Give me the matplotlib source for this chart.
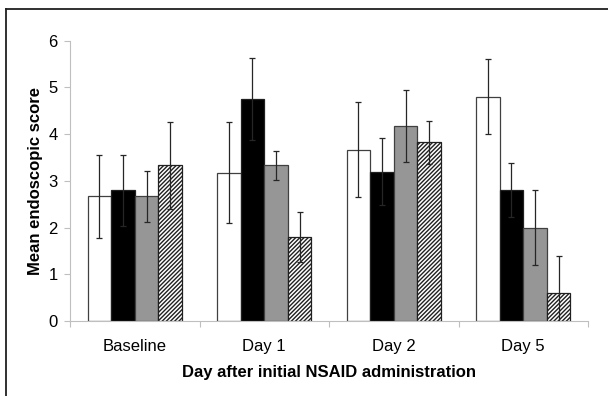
import matplotlib
matplotlib.use("Agg")
import matplotlib.pyplot as plt
from matplotlib.lines import Line2D
import numpy as np

plt.rcParams['font.family'] = ['Liberation Sans', 'DejaVu Sans']
plt.rcParams['hatch.linewidth'] = 1.0

categories = ["Baseline", "Day 1", "Day 2", "Day 5"]
series_white = [2.67, 3.17, 3.67, 4.80]
series_black = [2.80, 4.75, 3.20, 2.80]
series_gray = [2.67, 3.33, 4.17, 2.00]
series_hatch = [3.33, 1.80, 3.83, 0.60]
err_white = [0.89, 1.08, 1.02, 0.80]
err_black = [0.76, 0.88, 0.71, 0.58]
err_gray = [0.55, 0.31, 0.77, 0.80]
err_hatch = [0.94, 0.54, 0.46, 0.80]
yticks = [0, 1, 2, 3, 4, 5, 6]

fig = plt.figure(figsize=(6.08, 3.96), dpi=100)
ax = fig.add_axes([70/608, 1-321/396, 518/608, (321-40.7)/396])

x = np.arange(len(categories)) + 0.5
w = 0.182
styles = [
    dict(facecolor="white", edgecolor="#404040", hatch=None),
    dict(facecolor="black", edgecolor="#202020", hatch=None),
    dict(facecolor="#969696", edgecolor="#404040", hatch=None),
    dict(facecolor="white", edgecolor="#202020", hatch="////////"),
]
vals = [series_white, series_black, series_gray, series_hatch]
errs = [err_white, err_black, err_gray, err_hatch]
for k, (v, e, st) in enumerate(zip(vals, errs, styles)):
    pos = x + (k - 1.5) * w
    ax.bar(pos, v, width=w, linewidth=0.9, zorder=2, **st)
    ax.errorbar(pos, v, yerr=e, fmt="none", ecolor="#262626", elinewidth=0.9,
                capsize=2.2, capthick=0.9, zorder=3)

ax.set_xlim(0, 4)
ax.set_ylim(0, 6)
ax.set_yticks(yticks)
ax.set_xticks([0, 1, 2, 3, 4])
ax.set_xticklabels([])
ax.set_xticks(x, minor=True)
ax.set_xticklabels(categories, minor=True)
ax.tick_params(axis="x", which="minor", length=0, pad=13, labelsize=12)
ax.tick_params(axis="x", which="major", length=4, color="#bfbfbf", width=0.8)
ax.tick_params(axis="y", length=4.5, color="#bfbfbf", width=0.8, pad=4.5, labelsize=12)
for s in ["top", "right"]:
    ax.spines[s].set_visible(False)
for s in ["left", "bottom"]:
    ax.spines[s].set_color("#bfbfbf")
    ax.spines[s].set_linewidth(0.8)

ax.set_xlabel("Day after initial NSAID administration", fontsize=12,
              fontweight="bold", labelpad=8)
ax.set_ylabel("Mean endoscopic score", fontsize=12, fontweight="bold", labelpad=4)

# outer frame (left and top edges)
fig.add_artist(Line2D([6/608, 6/608], [0, 1-9/396], transform=fig.transFigure,
                      color="#202020", linewidth=1.3))
fig.add_artist(Line2D([6/608, 1], [1-9/396, 1-9/396], transform=fig.transFigure,
                      color="#202020", linewidth=1.3))

fig.savefig("out.png", dpi=100)
